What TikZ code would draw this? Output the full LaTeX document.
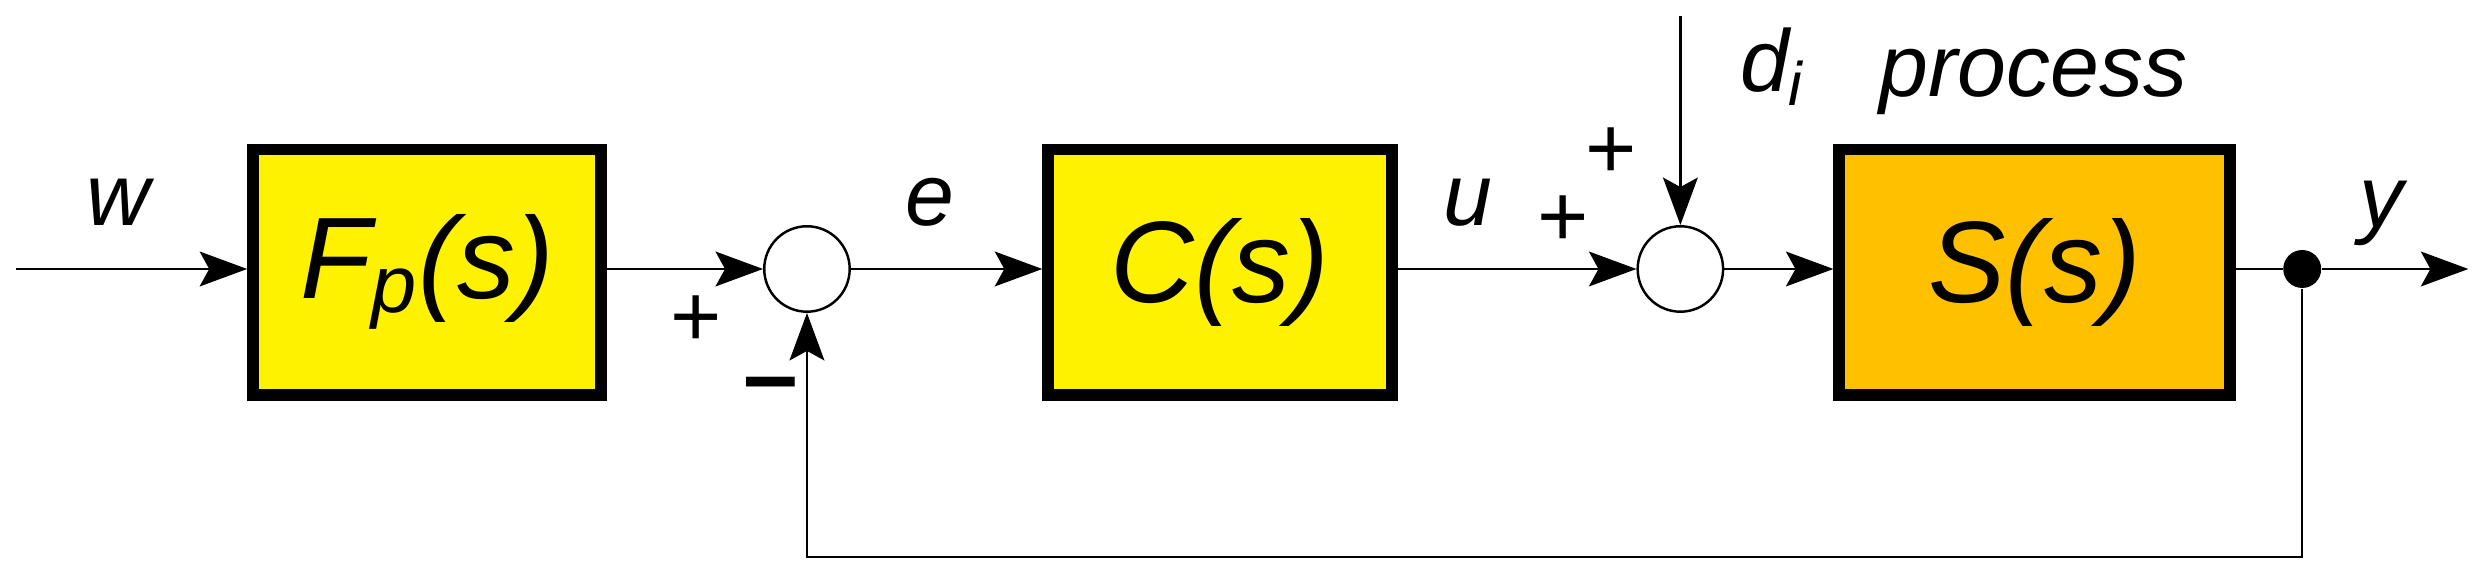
\documentclass[tikz,border=0pt]{standalone}
\usepackage{fontspec}
\setmainfont{Liberation Sans}
\usetikzlibrary{arrows.meta}
\begin{document}
\begin{tikzpicture}[x=0.01582cm,y=-0.01582cm,
  blk/.style={draw=black,line width=3.4pt,minimum width=#1*0.01582cm,minimum height=155*0.01582cm,inner sep=0pt,font=\fontsize{33}{36}\selectfont\itshape},
  sumc/.style={draw=black,fill=white,circle,minimum size=54*0.01582cm,inner sep=0pt,line width=0.7pt},
  ln/.style={line width=0.7pt,-{Stealth[length=30*0.01582cm,width=22*0.01582cm,inset=6*0.01582cm]}},
  lbl/.style={font=\fontsize{25}{28}\selectfont\itshape},
  sg/.style={font=\fontsize{25}{28}\selectfont}]
\useasboundingbox (0,0) rectangle (1568,366);
\coordinate (in) at (10,170);
\node[blk=220,fill=yellow] (F) at (270,172) {F\textsubscript{p}(s)};
\node[blk=217,fill=yellow] (C) at (771,172) {C(s)};
\node[blk=247,fill={rgb,255:red,255;green,192;blue,0}] (S) at (1286,172) {S(s)};
\node[sumc] (s1) at (510,170) {};
\node[sumc] (s2) at (1062,170) {};
\node[circle,fill=black,minimum size=24*0.01582cm,inner sep=0pt] (dot) at (1455,170) {};
\coordinate (dtop) at (1062,10);
\coordinate (out) at (1560,170);
\coordinate (fb1) at (1455,352);
\coordinate (fb2) at (510,352);
\draw[ln] (in) -- (in -| F.west);
\draw[ln] (F.east |- s1) -- (s1);
\draw[ln] (s1) -- (s1 -| C.west);
\draw[ln] (C.east |- s2) -- (s2);
\draw[ln] (dtop) -- (s2);
\draw[ln] (s2) -- (s2 -| S.west);
\draw[line width=0.7pt] (S.east |- dot) -- (dot);
\draw[ln] (dot) -- (out);
\draw[ln] (dot) -- (fb1) -- (fb2) -- (s1);
\node[lbl] (w) at (75,128) {w};
\node[lbl] (e) at (588,128) {e};
\node[lbl] (u) at (928,128) {u};
\node[lbl] (y) at (1505,135) {y};
\node[lbl] (di) at (1120,42) {d\textsubscript{i}};
\node[lbl] (p) at (1285,52) {process};
\node[sg] (p1) at (440,203) {+};
\node[font=\fontsize{28}{28}\selectfont\bfseries] (m1) at (487,248) {–};
\node[sg] (p2) at (988,140) {+};
\node[sg] (p3) at (1018,97) {+};
\end{tikzpicture}
\end{document}
